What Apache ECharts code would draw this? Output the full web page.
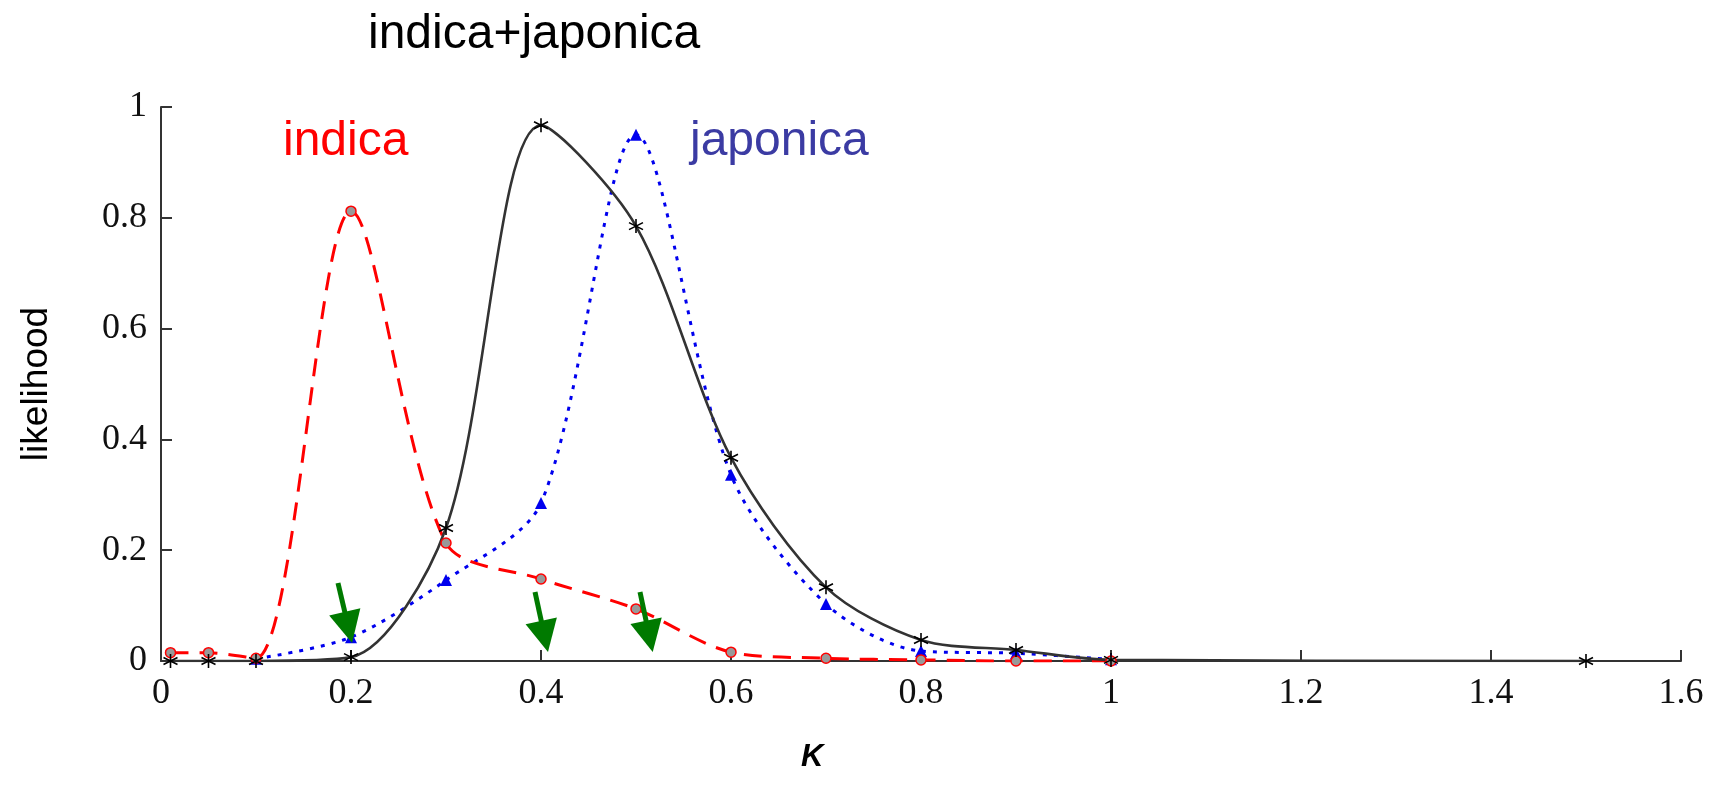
<!DOCTYPE html>
<html>
<head>
<meta charset="utf-8">
<script src="https://cdn.jsdelivr.net/npm/echarts@6/dist/echarts.min.js"></script>
<style>
html,body{margin:0;padding:0;background:#fff;}
#main{width:1722px;height:793px;}
</style>
</head>
<body>
<div id="main"></div>
<script>
// K values and likelihoods
var kIndica = [0.01, 0.05, 0.1, 0.2, 0.3, 0.4, 0.5, 0.6, 0.7, 0.8, 0.9, 1.0];
var indica = [0.015, 0.015, 0.005, 0.812, 0.213, 0.148, 0.094, 0.016, 0.005, 0.002, 0.0, 0.0];

var kJaponica = [0.1, 0.2, 0.3, 0.4, 0.5, 0.6, 0.7, 0.8, 0.9, 1.0];
var japonica = [0.004, 0.043, 0.146, 0.285, 0.95, 0.336, 0.103, 0.018, 0.014, 0.003];

var kBoth = [0.01, 0.05, 0.1, 0.2, 0.3, 0.4, 0.5, 0.6, 0.7, 0.8, 0.9, 1.0, 1.5];
var both = [0, 0, 0, 0.007, 0.24, 0.967, 0.785, 0.367, 0.133, 0.038, 0.02, 0.002, 0];

var xTicks = [0, 0.2, 0.4, 0.6, 0.8, 1, 1.2, 1.4, 1.6];
var yTicks = [0, 0.2, 0.4, 0.6, 0.8, 1];

// green arrows: [fromK, fromL, toK, toL]
var arrows = [
	[0.1863, 0.1408, 0.1973, 0.0606],
	[0.3937, 0.1245, 0.4038, 0.0444],
	[0.5042, 0.1245, 0.5141, 0.0444]
];

function pairs(xs, ys){
	var out = [];
	for (var i = 0; i < xs.length; i++) {
		out.push([xs[i], ys[i]]);
	}
	return out;
}
function fmt(v){
	return String(+v.toFixed(1));
}

var arrowData = [];
for (var i = 0; i < arrows.length; i++) {
	arrowData.push([{coord: [arrows[i][0], arrows[i][1]]}, {coord: [arrows[i][2], arrows[i][3]]}]);
}

var asterisk = 'path://M5,0L5,10M0.67,2.5L9.33,7.5M0.67,7.5L9.33,2.5';
var labelFont = '"Liberation Serif", "Times New Roman", serif';
var sansFont = '"Liberation Sans", Arial, sans-serif';

var myChart = echarts.init(document.getElementById('main'));
var option = {
	animation: false,
	backgroundColor: '#fff',
	title: [
		{text: 'indica+japonica', left: 368, top: 11, padding: 0,
			textStyle: {fontFamily: sansFont, fontSize: 48, fontWeight: 'normal', color: '#000'}},
		{text: 'indica', left: 283, top: 118, padding: 0,
			textStyle: {fontFamily: sansFont, fontSize: 48, fontWeight: 'normal', color: '#ff0000'}},
		{text: 'japonica', left: 690, top: 118, padding: 0,
			textStyle: {fontFamily: sansFont, fontSize: 48, fontWeight: 'normal', color: '#3b3ba3'}},
		{text: 'K', left: 801, top: 742, padding: 0,
			textStyle: {fontFamily: sansFont, fontSize: 31, fontWeight: 'bold', fontStyle: 'italic', color: '#000'}}
	],
	grid: {left: 161, right: 41, top: 107, bottom: 132},
	xAxis: {
		type: 'value',
		min: xTicks[0],
		max: xTicks[xTicks.length - 1],
		interval: 0.2,
		splitLine: {show: false},
		axisLine: {onZero: false, lineStyle: {color: '#333', width: 2}},
		axisTick: {inside: true, length: 11, lineStyle: {color: '#333', width: 2}},
		axisLabel: {margin: 15, fontFamily: labelFont, fontSize: 36, color: '#111', formatter: fmt}
	},
	yAxis: {
		type: 'value',
		min: yTicks[0],
		max: yTicks[yTicks.length - 1],
		interval: 0.2,
		name: 'likelihood',
		nameLocation: 'middle',
		nameGap: 106,
		nameTextStyle: {fontFamily: sansFont, fontSize: 37, color: '#000'},
		splitLine: {show: false},
		axisLine: {show: true, lineStyle: {color: '#333', width: 2}},
		axisTick: {show: true, inside: true, length: 11, lineStyle: {color: '#333', width: 2}},
		axisLabel: {margin: 14, fontFamily: labelFont, fontSize: 36, color: '#111', formatter: fmt}
	},
	series: [
		{
			name: 'japonica',
			type: 'line',
			smooth: 0.3,
			data: pairs(kJaponica, japonica),
			symbol: 'triangle',
			symbolSize: 12,
			itemStyle: {color: '#0000ee'},
			lineStyle: {color: '#0000ee', width: 3, type: [4, 7]}
		},
		{
			name: 'indica',
			type: 'line',
			smooth: 0.3,
			data: pairs(kIndica, indica),
			symbol: 'circle',
			symbolSize: 10,
			itemStyle: {color: '#999', borderColor: '#ff0000', borderWidth: 1.5},
			lineStyle: {color: '#ff0000', width: 3, type: [18, 11]}
		},
		{
			name: 'indica+japonica',
			type: 'line',
			smooth: 0.3,
			data: pairs(kBoth, both),
			symbol: asterisk,
			symbolSize: 14,
			itemStyle: {color: '#000', borderColor: '#000', borderWidth: 1.6},
			lineStyle: {color: '#333', width: 2.6},
			markLine: {
				silent: true,
				symbol: ['none', 'triangle'],
				symbolSize: 32,
				label: {show: false},
				lineStyle: {color: '#007a00', width: 5, type: 'solid'},
				emphasis: {disabled: true},
				data: arrowData
			}
		}
	]
};
myChart.setOption(option);
</script>
</body>
</html>
